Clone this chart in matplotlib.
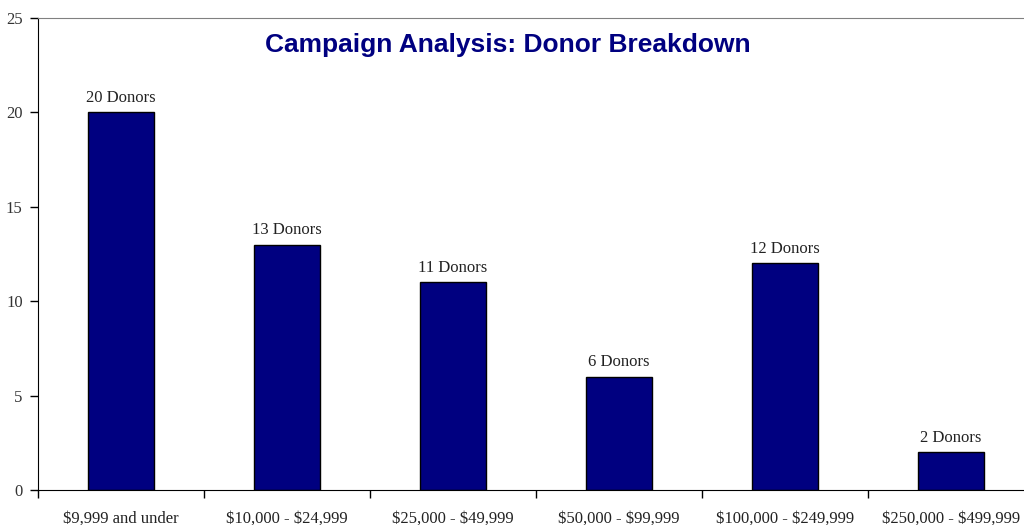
import numpy as np
import matplotlib.pyplot as plt

categories = ["$9,999 and under", "$10,000 - $24,999", "$25,000 - $49,999",
              "$50,000 - $99,999", "$100,000 - $249,999", "$250,000 - $499,999"]
donors = [20, 13, 11, 6, 12, 2]

plt.rcParams['font.family'] = ['Liberation Serif', 'DejaVu Serif']
plt.rcParams['text.parse_math'] = False

fig = plt.figure(figsize=(10.24, 5.25), dpi=100)
ax = fig.add_axes([38/1024, 35/525, 996/1024, 472/525])

x = np.arange(len(categories))
ax.bar(x, donors, width=0.4, color='#000080', edgecolor='black', linewidth=1)

for xi, v in zip(x, donors):
    ax.text(xi, v + 0.35, f"{v} Donors", ha='center', va='bottom', fontsize=12, color='#222222')

ax.set_xlim(-0.5, len(categories) - 0.5)
ax.set_ylim(0, 25)
ax.set_yticks([0, 5, 10, 15, 20, 25])
ax.tick_params(axis='y', labelsize=12, length=6, width=1, direction='out', pad=5,
               labelcolor='#333333')

ax.set_xticks(x)
ax.set_xticklabels(categories, fontsize=12, color='#222222')
ax.set_xticks(np.arange(len(categories) + 1) - 0.5, minor=True)
ax.tick_params(axis='x', which='major', length=0, pad=15)
ax.tick_params(axis='x', which='minor', length=6, width=1, direction='out')

ax.spines['top'].set_color('#808080')
ax.spines['right'].set_visible(False)

fig.text(508/1024, 1 - 45/525, "Campaign Analysis: Donor Breakdown", ha='center', va='center',
         fontsize=19, fontweight='bold', color='#000080', family='Liberation Sans')

fig.savefig("out.png", dpi=100)
